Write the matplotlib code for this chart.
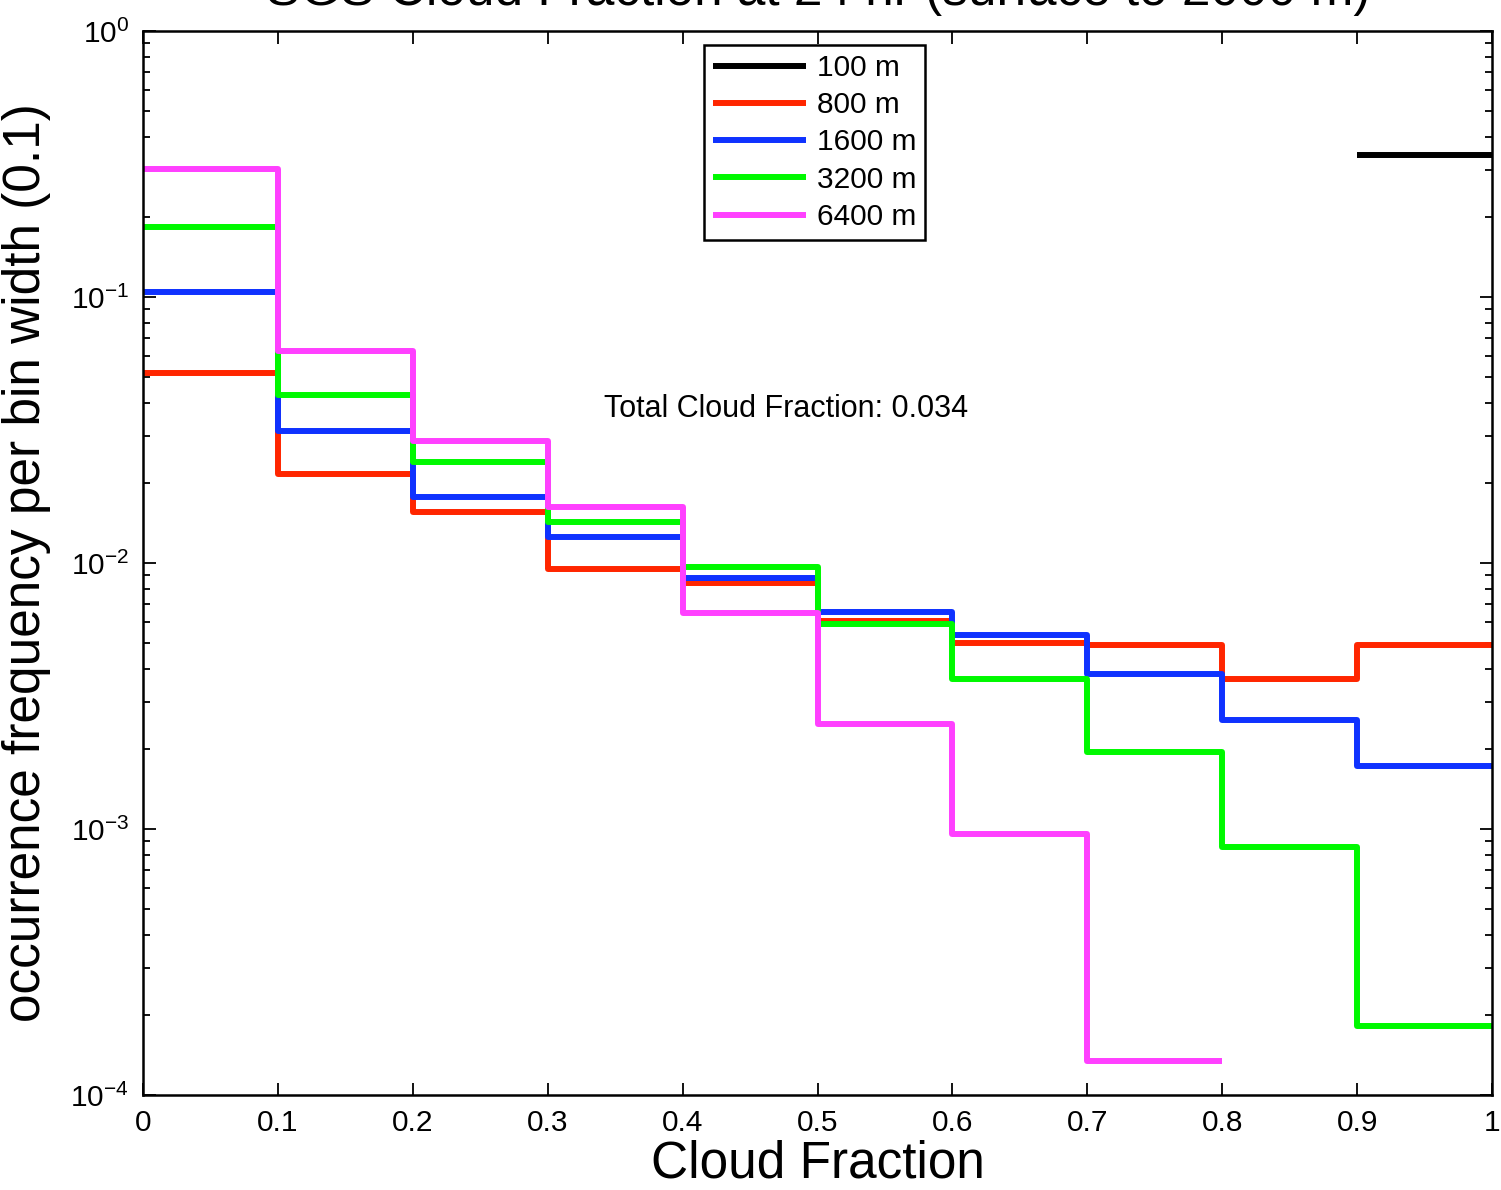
import numpy as np
import matplotlib
matplotlib.use("Agg")
import matplotlib.pyplot as plt
from matplotlib.ticker import LogLocator, LogFormatterSciNotation, NullFormatter, MultipleLocator

plt.rcParams["font.family"] = ["Liberation Sans", "DejaVu Sans"]
plt.rcParams["mathtext.default"] = "regular"

# Histogram bin edges (cloud fraction) and occurrence frequency per bin width
bin_edges = [0.0, 0.1, 0.2, 0.3, 0.4, 0.5, 0.6, 0.7, 0.8, 0.9, 1.0]
labels = ["100 m", "800 m", "1600 m", "3200 m", "6400 m"]
freq_100 = [0, 0, 0, 0, 0, 0, 0, 0, 0, 0.341]
freq_800 = [0.0519, 0.0216, 0.01554, 0.00949, 0.00839, 0.00605, 0.00502, 0.00490, 0.00366, 0.00490]
freq_1600 = [0.1047, 0.0313, 0.01766, 0.01249, 0.00876, 0.00654, 0.00536, 0.00382, 0.00257, 0.00173]
freq_3200 = [0.1837, 0.0428, 0.02397, 0.01426, 0.00968, 0.00590, 0.00365, 0.00194, 0.000858, 0.000181]
freq_6400 = [0.3029, 0.0627, 0.02884, 0.01620, 0.00647, 0.00248, 0.000955, 0.0001346, 0, 0]
total_cloud_fraction = 0.034

series = [freq_100, freq_800, freq_1600, freq_3200, freq_6400]
colors = ["#000000", "#ff2600", "#0f32ff", "#00f900", "#ff40ff"]

fig = plt.figure(figsize=(15.01, 11.90), dpi=100)
ax = fig.add_axes([143 / 1501, 1 - 1095 / 1190, (1492 - 143) / 1501, (1095 - 31) / 1190])

for vals, col, lab in zip(series, colors, labels):
    v = np.asarray(vals, dtype=float)
    v = np.where(v > 0, v, np.nan)  # empty bins are not drawn on the log axis
    y = np.append(v, v[-1])
    ax.step(bin_edges, y, where="post", color=col, lw=4.3, label=lab,
            solid_joinstyle="round", solid_capstyle="butt")

ax.set_yscale("log")
ax.set_xlim(0, 1)
ax.set_ylim(1e-4, 1e0)

ax.xaxis.set_major_locator(MultipleLocator(0.1))
ax.xaxis.set_major_formatter(plt.FuncFormatter(lambda x, p: "0" if abs(x) < 1e-9 else ("1" if abs(x - 1) < 1e-9 else f"{x:.1f}")))
ax.yaxis.set_major_locator(LogLocator(base=10, numticks=10))
ax.yaxis.set_major_formatter(LogFormatterSciNotation())
ax.yaxis.set_minor_locator(LogLocator(base=10, subs=np.arange(2, 10), numticks=20))
ax.yaxis.set_minor_formatter(NullFormatter())

ax.tick_params(which="both", direction="in", top=True, right=True, labelsize=21.5, width=1.3)
ax.tick_params(which="major", length=9, pad=10)
ax.tick_params(which="minor", length=5)
for s in ax.spines.values():
    s.set_linewidth(1.8)

ax.set_xlabel("Cloud Fraction", fontsize=37, labelpad=2)
ax.set_ylabel("occurrence frequency per bin width (0.1)", fontsize=37, labelpad=14)

fig.text(0.545, 1 - 5 / 1190, "SGS Cloud Fraction at 24 hr (surface to 2000 m)",
         fontsize=37, ha="center", va="baseline")

ax.text((604 - 143) / 1349, (1095 - 409) / 1064,
        f"Total Cloud Fraction: {total_cloud_fraction:.3f}",
        transform=ax.transAxes, fontsize=22, ha="left", va="center")

leg = ax.legend(loc="upper left", bbox_to_anchor=((704 - 143) / 1349, (1095 - 45) / 1064),
                borderaxespad=0, fontsize=21.5, frameon=True, fancybox=False,
                edgecolor="black", framealpha=1, handlelength=3.1, handletextpad=0.37,
                labelspacing=0.31, borderpad=0.3)
leg.get_frame().set_linewidth(1.8)

fig.savefig("out.png", dpi=100)
